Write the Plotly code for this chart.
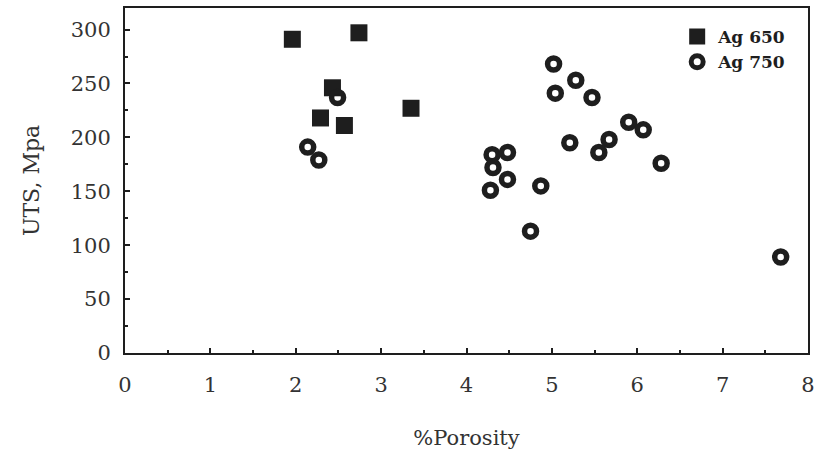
import plotly.graph_objects as go

# Ag 650 (filled squares)
ag650_x = [1.96, 2.74, 2.43, 2.29, 2.57, 3.35]
ag650_y = [291, 297, 246, 218, 211, 227]

# Ag 750 (open circles)
ag750_x = [2.49, 2.14, 2.27, 5.02, 5.28, 5.04, 5.47, 5.90, 6.07, 5.21, 5.67,
           5.55, 6.28, 4.30, 4.48, 4.31, 4.48, 4.28, 4.87, 4.75, 7.68]
ag750_y = [237, 191, 179, 268, 253, 241, 237, 214, 207, 195, 198,
           186, 176, 184, 186, 172, 161, 151, 155, 113, 89]

x_ticks = [0, 1, 2, 3, 4, 5, 6, 7, 8]
y_ticks = [0, 50, 100, 150, 200, 250, 300]

ink = "#1e1e1e"
serif = "DejaVu Serif"

fig = go.Figure()
fig.add_trace(go.Scatter(
    x=ag650_x, y=ag650_y, mode="markers", name="Ag 650",
    marker=dict(symbol="square", size=17, color=ink, line=dict(width=0)),
))
fig.add_trace(go.Scatter(
    x=ag750_x, y=ag750_y, mode="markers", name="Ag 750",
    marker=dict(symbol="circle-open", size=12, color=ink, line=dict(width=5.5, color=ink)),
))

fig.update_layout(
    width=817, height=457,
    margin=dict(l=125, r=9, t=8, b=104),
    paper_bgcolor="white", plot_bgcolor="white",
    font=dict(family=serif, size=21, color="#333"),
    showlegend=True,
    legend=dict(
        x=0.807, y=0.968, xanchor="left", yanchor="top",
        bgcolor="rgba(0,0,0,0)", borderwidth=0,
        font=dict(family=serif, size=17, color=ink, weight="bold"),
        itemwidth=32, tracegroupgap=0,
    ),
    xaxis=dict(
        range=[0, 8], tickvals=x_ticks, ticktext=[str(v) for v in x_ticks],
        ticks="inside", ticklen=5, tickwidth=1.5, tickcolor=ink,
        minor=dict(dtick=0.5, tick0=0, ticks="inside", ticklen=3, tickwidth=1.5, tickcolor=ink),
        showline=True, linecolor=ink, linewidth=2, mirror=True,
        showgrid=False, zeroline=False, automargin=False,
        ticklabelstandoff=12, ticklabeloverflow="allow",
        title=dict(text="%Porosity", standoff=34, font=dict(family=serif, size=21, color="#333")),
    ),
    yaxis=dict(
        range=[0, 320], tickvals=y_ticks, ticktext=[str(v) for v in y_ticks],
        ticks="inside", ticklen=5, tickwidth=1.5, tickcolor=ink,
        minor=dict(dtick=25, tick0=0, ticks="inside", ticklen=3, tickwidth=1.5, tickcolor=ink),
        showline=True, linecolor=ink, linewidth=2, mirror=True,
        showgrid=False, zeroline=False, automargin=False,
        ticklabelstandoff=8,
        title=dict(text="UTS, Mpa", standoff=25, font=dict(family=serif, size=22, color="#333")),
    ),
)

fig.write_html(
    "out.html",
    config={"displayModeBar": False},
    post_script="document.body.style.margin='0';document.body.style.overflow='hidden';",
)
